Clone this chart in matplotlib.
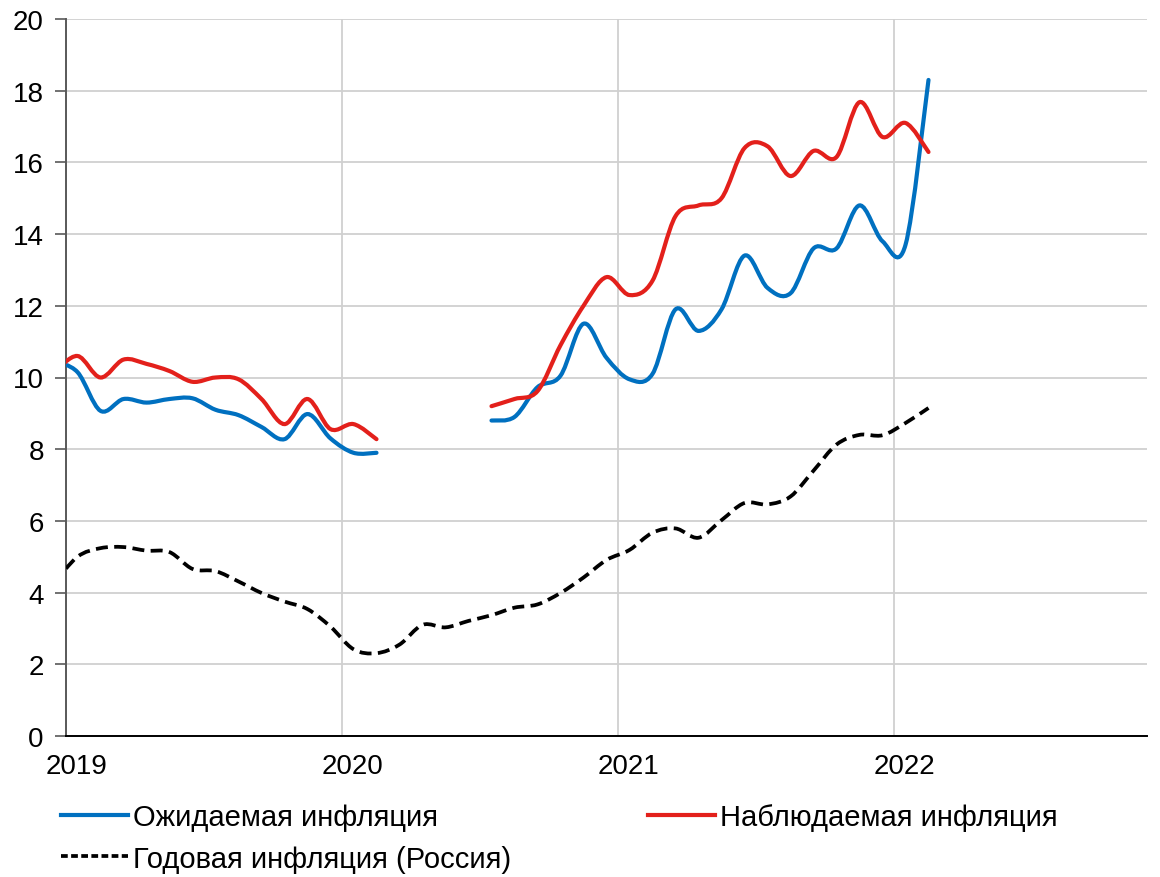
import numpy as np
import pandas as pd
import matplotlib
matplotlib.use("Agg")
import matplotlib.pyplot as plt
from matplotlib.path import Path
from matplotlib.patches import PathPatch
from matplotlib.lines import Line2D

plt.rcParams['font.family'] = ['Liberation Sans', 'DejaVu Sans']

# monthly observations, Dec 2018 .. Feb 2022 (plotted at mid-month)
months = pd.date_range('2018-12-01', '2022-02-01', freq='MS')

expected = [10.45, 10.15, 9.07, 9.4, 9.3, 9.4, 9.42, 9.1, 8.95, 8.62, 8.28, 8.98, 8.3, 7.9, 7.9,
            None, None, None, None,
            8.8, 8.9, 9.73, 10.05, 11.5, 10.55, 9.95, 10.1, 11.9, 11.3, 11.9, 13.4,
            12.5, 12.35, 13.6, 13.6, 14.8, 13.8, 13.7, 18.3]
observed = [10.15, 10.6, 10.0, 10.5, 10.38, 10.18, 9.88, 10.0, 9.95, 9.4, 8.7, 9.4, 8.56, 8.7, 8.28,
            None, None, None, None,
            9.2, 9.4, 9.62, 10.9, 12.0, 12.8, 12.3, 12.7, 14.5, 14.8, 15.0, 16.4,
            16.45, 15.62, 16.32, 16.15, 17.68, 16.71, 17.1, 16.29]
cpi_russia = [4.27, 5.0, 5.24, 5.27, 5.17, 5.13, 4.66, 4.6, 4.31, 3.99, 3.75, 3.54, 3.05, 2.42,
              2.31, 2.55, 3.1, 3.03, 3.21, 3.37, 3.58, 3.67, 3.99, 4.42, 4.91, 5.19, 5.67,
              5.79, 5.53, 6.02, 6.5, 6.46, 6.68, 7.4, 8.13, 8.4, 8.39, 8.73, 9.15]

years = [2019, 2020, 2021, 2022]
labels = ['Ожидаемая инфляция', 'Наблюдаемая инфляция', 'Годовая инфляция (Россия)']

BLUE = '#0070c0'
RED = '#e3201b'


def smooth_path(x, y):
    """Excel-like smoothed line as cubic bezier path, gaps at NaN"""
    x = np.asarray(x, float)
    y = np.asarray(y, float)
    ok = ~np.isnan(y)
    verts, codes = [], []
    i = 0
    while i < len(y):
        if not ok[i]:
            i += 1
            continue
        j = i
        while j < len(y) and ok[j]:
            j += 1
        P = np.column_stack([x[i:j], y[i:j]])
        n = len(P)
        verts.append(P[0])
        codes.append(Path.MOVETO)
        for k in range(n - 1):
            p0 = P[k - 1] if k > 0 else P[k]
            p3 = P[k + 2] if k + 2 < n else P[k + 1]
            c1 = P[k] + (P[k + 1] - p0) / 6
            c2 = P[k + 1] - (p3 - P[k]) / 6
            verts += [c1, c2, P[k + 1]]
            codes += [Path.CURVE4] * 3
        i = j
    return Path(verts, codes)


# x in months since Jan 2019, points at mid-month
xm = (months.year - 2019) * 12 + (months.month - 1) + 0.5

fig = plt.figure(figsize=(11.6, 8.78), dpi=100)
ax = fig.add_axes([66 / 1160, 1 - 737 / 878, (1147 - 66) / 1160, (737 - 20) / 878])

ax.add_patch(PathPatch(smooth_path(xm, cpi_russia), fill=False, edgecolor='black',
                       lw=2.7, linestyle=(0, (3.2, 1.7)), capstyle='butt', zorder=3))
ax.add_patch(PathPatch(smooth_path(xm, expected), fill=False, edgecolor=BLUE,
                       lw=3.0, capstyle='round', zorder=4))
ax.add_patch(PathPatch(smooth_path(xm, observed), fill=False, edgecolor=RED,
                       lw=3.0, capstyle='round', zorder=5))

ax.set_xlim(0, 47)
ax.set_ylim(0, 20)
ax.set_yticks(np.arange(0, 21, 2))
ax.tick_params(axis='y', length=8, width=1.2, color='#595959', labelsize=20, pad=8)

year_pos = [(y - 2019) * 12 for y in years]
ax.set_xticks(year_pos)
ax.set_xticklabels([])
ax.set_xticks([p + 0.45 for p in year_pos], minor=True)
ax.set_xticklabels([str(y) for y in years], minor=True)
ax.tick_params(axis='x', which='both', length=0, labelsize=20, pad=12)

ax.grid(True, color='#d0d0d0', lw=1.3)
ax.set_axisbelow(True)
for s in ['top', 'right']:
    ax.spines[s].set_visible(False)
ax.spines['left'].set_color('#595959')
ax.spines['left'].set_linewidth(1.4)
ax.spines['bottom'].set_color('black')
ax.spines['bottom'].set_linewidth(1.4)

handles = [Line2D([], [], color=BLUE, lw=3.0),
           Line2D([], [], color='black', lw=2.7, linestyle=(0, (1.8, 0.9))),
           Line2D([], [], color=RED, lw=3.0)]
fig.legend(handles, [labels[0], labels[2], labels[1]], ncol=2, frameon=False,
           loc='upper left', bbox_to_anchor=(35 / 1160, 1 - 778 / 878),
           fontsize=21, handlelength=2.3, handletextpad=0.17,
           columnspacing=4.68, labelspacing=0.46)

fig.savefig('out.png', dpi=100)
